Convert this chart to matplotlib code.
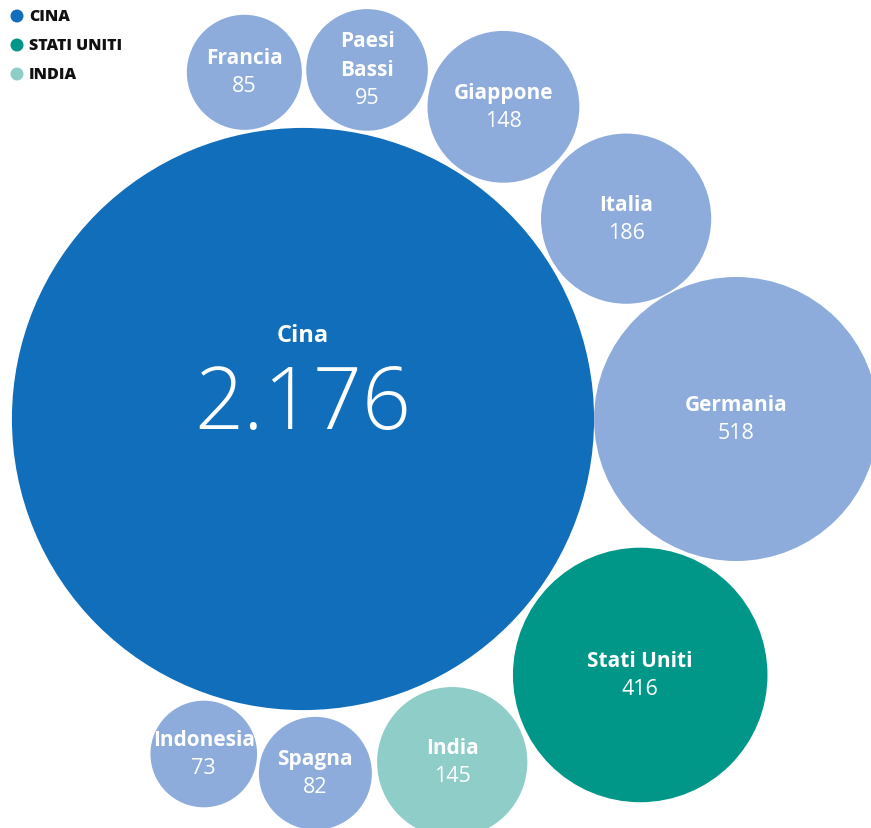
import numpy as np
import matplotlib.pyplot as plt
from matplotlib.patches import Circle

# Data: totals by country
countries = ["Germania", "Stati Uniti", "India", "Spagna", "Indonesia",
             "Italia", "Giappone", "Paesi Bassi", "Francia"]
values = [518, 416, 145, 82, 73, 186, 148, 95, 85]
labels = ["Germania", "Stati Uniti", "India", "Spagna", "Indonesia",
          "Italia", "Giappone", "Paesi\nBassi", "Francia"]
main_country = "Cina"
main_value = 2176

legend_labels = ["CINA", "STATI UNITI", "INDIA"]

# Layout: angle of each bubble around the main one (degrees) and gap (px)
angles = [0, -37.2, -66.5, -88, -106.5, 31.8, 57.3, 79.6, 99.6]
gaps = [0, 5, 8, 7, 5, 4, 4, 3, 3]

c_main = "#116EBA"
c_other = "#8DACDB"
c_us = "#009688"
c_india = "#8FCDC8"
colors = {"Stati Uniti": c_us, "India": c_india}

scale = 6.24  # px per sqrt(unit), bubble area proportional to value
line_h = 29   # px between text lines inside a bubble

def fmt(v):
    return f"{v:,}".replace(",", ".")

plt.rcParams['font.family'] = ['Open Sans', 'DejaVu Sans']

fig = plt.figure(figsize=(8.71, 8.29), dpi=100)
ax = fig.add_axes([0, 0, 1, 1])
ax.set_xlim(-303, 568)
ax.set_ylim(-409, 420)
ax.set_aspect('equal')
ax.axis('off')

R = scale * np.sqrt(main_value)
ax.add_patch(Circle((0, 0), R, color=c_main, lw=0))
ax.text(0, 84, main_country, color='white', fontsize=17, fontweight='bold',
        ha='center', va='center')
ax.text(0, 13, fmt(main_value), color='white', fontsize=62, fontweight='light',
        ha='center', va='center')

for name, lab, v, a, g in zip(countries, labels, values, angles, gaps):
    r = scale * np.sqrt(v)
    d = R + r + g
    x = d * np.cos(np.radians(a))
    y = d * np.sin(np.radians(a))
    ax.add_patch(Circle((x, y), r, color=colors.get(name, c_other), lw=0))
    lines = lab.split("\n") + [fmt(v)]
    n = len(lines)
    for k, t in enumerate(lines):
        yy = y - (k - (n - 1) / 2) * line_h
        is_num = k == n - 1
        ax.text(x, yy + (1 if is_num else 0), t, color='white',
                fontsize=15.5 if is_num else 15,
                fontweight='normal' if is_num else 'bold',
                ha='center', va='center')

# Legend in the top-left corner
for i, (lab, col) in enumerate(zip(legend_labels, [c_main, c_us, c_india])):
    yy = 403 - 29 * i
    ax.add_patch(Circle((-286, yy), 6.5, color=col, lw=0))
    ax.text(-274, yy, lab, fontsize=11.5, fontweight='heavy', color='#111111',
            ha='left', va='center')

fig.savefig("out.png", dpi=100, facecolor='white')
